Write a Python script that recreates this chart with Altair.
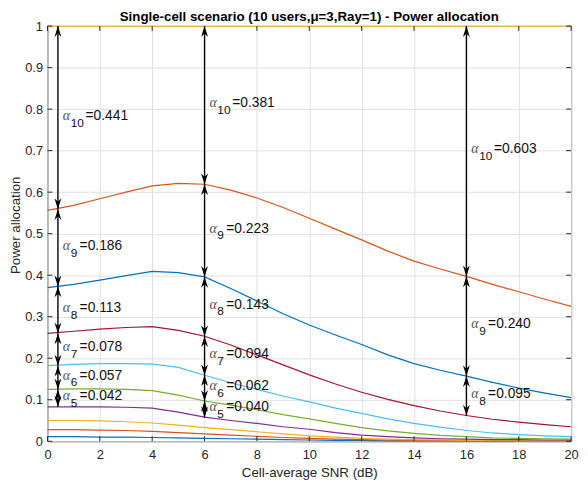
import altair as alt
import pandas as pd

# ---------------- data ----------------
snr_db = list(range(21))
p1 = [0.011, 0.011, 0.010, 0.010, 0.009, 0.008, 0.007, 0.006, 0.005, 0.004, 0.003, 0.002, 0.002, 0.001, 0.001, 0.001, 0.001, 0.001, 0.000, 0.000, 0.000]
p2 = [0.028, 0.028, 0.027, 0.026, 0.024, 0.021, 0.018, 0.015, 0.012, 0.009, 0.007, 0.005, 0.004, 0.003, 0.002, 0.002, 0.001, 0.001, 0.001, 0.001, 0.001]
p3 = [0.050, 0.050, 0.049, 0.047, 0.044, 0.039, 0.033, 0.028, 0.023, 0.018, 0.013, 0.010, 0.007, 0.005, 0.004, 0.003, 0.002, 0.002, 0.001, 0.001, 0.001]
p4 = [0.083, 0.083, 0.083, 0.082, 0.080, 0.070, 0.058, 0.050, 0.043, 0.035, 0.029, 0.021, 0.015, 0.011, 0.008, 0.006, 0.005, 0.004, 0.004, 0.003, 0.003]
p5 = [0.125, 0.126, 0.126, 0.125, 0.122, 0.111, 0.097, 0.087, 0.076, 0.064, 0.054, 0.043, 0.033, 0.025, 0.019, 0.014, 0.011, 0.008, 0.007, 0.006, 0.005]
p6 = [0.182, 0.185, 0.187, 0.187, 0.186, 0.178, 0.159, 0.141, 0.125, 0.109, 0.095, 0.080, 0.067, 0.054, 0.043, 0.034, 0.026, 0.020, 0.016, 0.013, 0.011]
p7 = [0.260, 0.265, 0.270, 0.274, 0.276, 0.267, 0.253, 0.232, 0.208, 0.184, 0.160, 0.138, 0.118, 0.101, 0.086, 0.073, 0.062, 0.053, 0.046, 0.040, 0.035]
p8 = [0.370, 0.378, 0.388, 0.399, 0.409, 0.406, 0.396, 0.368, 0.338, 0.307, 0.280, 0.256, 0.233, 0.208, 0.187, 0.171, 0.157, 0.142, 0.128, 0.116, 0.105]
p9 = [0.556, 0.568, 0.584, 0.600, 0.615, 0.621, 0.619, 0.605, 0.586, 0.563, 0.537, 0.511, 0.485, 0.458, 0.434, 0.415, 0.397, 0.378, 0.360, 0.342, 0.325]
p10 = [1.0] * 21

line_colors = ["#0072BD", "#D95319", "#EDB120", "#7E2F8E", "#77AC30",
               "#4DBEEE", "#A2142F", "#0072BD", "#D95319", "#EDB120"]

ann_snr = [0.4] * 6 + [6] * 6 + [16] * 3
ann_user = [10, 9, 8, 7, 6, 5, 10, 9, 8, 7, 6, 5, 10, 9, 8]
ann_alpha = [0.441, 0.186, 0.113, 0.078, 0.057, 0.042,
             0.381, 0.223, 0.143, 0.094, 0.062, 0.040,
             0.603, 0.240, 0.095]

x_ticks = list(range(0, 21, 2))
y_ticks = [round(i * 0.1, 1) for i in range(11)]

title_text = "Single-cell scenario (10 users,\u03bc=3,Ray=1) - Power allocation"
x_title = "Cell-average SNR (dB)"
y_title = "Power allocation"

# ---------------- tables ----------------
series = [p1, p2, p3, p4, p5, p6, p7, p8, p9, p10]
rows = []
for i, s in enumerate(series):
    for xv, yv in zip(snr_db, s):
        rows.append({"snr": xv, "p": yv, "user": i + 1})
lines_df = pd.DataFrame(rows)

arows = []
top = 1.0
for sx, k, a in zip(ann_snr, ann_user, ann_alpha):
    if k == 10:
        top = 1.0
    bot = top - a
    arows.append({"snr": sx, "k": str(k), "two": k >= 10, "top": top, "bot": bot,
                  "mid": (top + bot) / 2, "val": "=%.3f" % a})
    top = bot
ann_df = pd.DataFrame(arows)

W, H = 531, 421
FONT = "Liberation Sans"
TXT = "#262626"

xs = alt.Scale(domain=[0, 20], nice=False)
ys = alt.Scale(domain=[0, 1], nice=False)

x_axis = alt.Axis(values=x_ticks, grid=True, gridColor="#E0E0E0", ticks=False, tickSize=0,
                  domain=False, labelFont=FONT, labelFontSize=13, labelColor=TXT,
                  labelPadding=7, labelFlush=False, title=x_title,
                  titleFont=FONT, titleFontSize=13.5, titleFontWeight="normal",
                  titleColor=TXT, titlePadding=5)
y_axis = alt.Axis(values=y_ticks, grid=True, gridColor="#E0E0E0", ticks=False, tickSize=0,
                  domain=False, format="~g", labelFont=FONT, labelFontSize=13,
                  labelColor=TXT, labelPadding=5, labelFlush=False,
                  title=y_title, titleFont=FONT, titleFontSize=13.5,
                  titleFontWeight="normal", titleColor=TXT, titlePadding=2,
                  titleY=H / 2 - 9)


def X(f):
    return alt.X(f, scale=xs, axis=x_axis)


def Y(f):
    return alt.Y(f, scale=ys, axis=y_axis)


lines = alt.Chart(lines_df).mark_line(strokeWidth=1.2).encode(
    x=X("snr:Q"),
    y=Y("p:Q"),
    color=alt.Color("user:N", scale=alt.Scale(domain=list(range(1, 11)), range=line_colors),
                    legend=None),
)

base = alt.Chart(ann_df)
shafts = base.mark_rule(color="black", strokeWidth=1.4).encode(
    x=X("snr:Q"), y=Y("bot:Q"), y2="top:Q",
)
up_head = "M0,0L-0.7,2.2L0,1.5L0.7,2.2Z"
down_head = "M0,0L-0.7,-2.2L0,-1.5L0.7,-2.2Z"
heads_up = base.mark_point(shape=up_head, filled=True, size=100, color="black", opacity=1).encode(
    x=X("snr:Q"), y=Y("top:Q"),
)
heads_down = base.mark_point(shape=down_head, filled=True, size=100, color="black", opacity=1).encode(
    x=X("snr:Q"), y=Y("bot:Q"),
)

alpha_txt = base.mark_text(text="\u03b1", align="left", baseline="middle", dx=5, dy=-2,
                           font="Liberation Serif", fontStyle="italic", fontSize=14,
                           color="#555555").encode(
    x=X("snr:Q"), y=Y("mid:Q"),
)
sub_txt = base.mark_text(align="left", baseline="middle", dx=13, dy=5, font=FONT,
                         fontSize=12, color="#111111").encode(
    x=X("snr:Q"), y=Y("mid:Q"), text="k:N",
)
val2 = base.transform_filter("datum.two").mark_text(
    align="left", baseline="middle", dx=28, dy=-2, font=FONT, fontSize=14, color="#111111"
).encode(x=X("snr:Q"), y=Y("mid:Q"), text="val:N")
val1 = base.transform_filter("!datum.two").mark_text(
    align="left", baseline="middle", dx=22, dy=-2, font=FONT, fontSize=14, color="#111111"
).encode(x=X("snr:Q"), y=Y("mid:Q"), text="val:N")

# inward tick marks on all four sides
xt_df = pd.DataFrame({"t": x_ticks})
yt_df = pd.DataFrame({"t": y_ticks})
TC = "#262626"
tick_b = alt.Chart(xt_df).mark_rule(color=TC, strokeWidth=1).encode(
    x=X("t:Q"), y=alt.value(H), y2=alt.value(H - 5))
tick_t = alt.Chart(xt_df).mark_rule(color=TC, strokeWidth=1).encode(
    x=X("t:Q"), y=alt.value(0), y2=alt.value(5))
tick_l = alt.Chart(yt_df).mark_rule(color=TC, strokeWidth=1).encode(
    y=Y("t:Q"), x=alt.value(0), x2=alt.value(5))
tick_r = alt.Chart(yt_df).mark_rule(color=TC, strokeWidth=1).encode(
    y=Y("t:Q"), x=alt.value(W), x2=alt.value(W - 5))

# chart title drawn as a text mark just above the plot frame
title_df = pd.DataFrame({"t": [title_text]})
title_mark = alt.Chart(title_df).mark_text(
    font=FONT, fontSize=13.5, fontWeight="bold", color="black",
    align="center", baseline="alphabetic"
).encode(text="t:N", x=alt.value(W / 2), y=alt.value(-5.5))

chart = alt.layer(
    lines, tick_b, tick_t, tick_l, tick_r,
    shafts, heads_up, heads_down, alpha_txt, sub_txt, val2, val1, title_mark
).properties(
    width=W, height=H,
    autosize=alt.AutoSizeParams(type="none"),
    padding={"left": 40, "top": 15, "right": 9, "bottom": 40},
).configure_view(stroke="#262626", strokeWidth=1)

chart.save("out.html", embed_options={"renderer": "svg", "actions": False})
